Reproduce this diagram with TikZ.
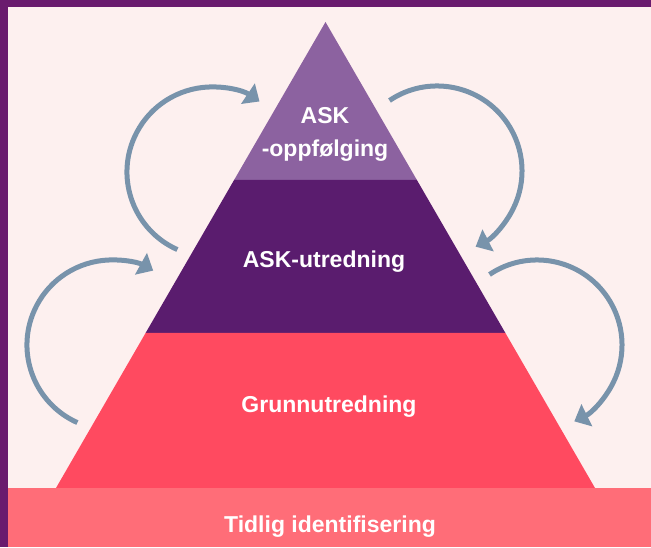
\documentclass[tikz,border=0pt]{standalone}
\usepackage{fontspec}
\setmainfont{Liberation Sans}
\usetikzlibrary{arrows.meta}
\definecolor{framec}{HTML}{6A1B6E}
\definecolor{bgc}{HTML}{FDF0EF}
\definecolor{lightp}{HTML}{8C62A0}
\definecolor{darkp}{HTML}{5A1C6E}
\definecolor{redc}{HTML}{FF4A60}
\definecolor{bandc}{HTML}{FF6D78}
\definecolor{loopc}{HTML}{7893AB}
\begin{document}
\begin{tikzpicture}[x=1pt,y=1pt]
\tikzstyle{lbl} = [text=white, font=\fontsize{23}{28}\selectfont\bfseries, inner sep=0pt, anchor=base]
\tikzstyle{loop} = [draw=loopc, line width=5pt, -{Triangle[width=24pt,length=14pt]}]
\useasboundingbox (0,0) rectangle (651,547);
\fill[bgc] (0,0) rectangle (651,547);
\fill[framec] (0,540) rectangle (651,547);
\fill[framec] (0,0) rectangle (8,547);
% pyramid
\coordinate (apex) at (325.5,525);
\coordinate (l1) at (234.1,367);
\coordinate (r1) at (416.9,367);
\coordinate (l2) at (145.6,214);
\coordinate (r2) at (505.4,214);
\coordinate (l3) at (56,59);
\coordinate (r3) at (595,59);
\fill[lightp] (apex) -- (r1) -- (l1) -- cycle;
\fill[darkp] (l1) -- (r1) -- (r2) -- (l2) -- cycle;
\fill[redc] (l2) -- (r2) -- (r3) -- (l3) -- cycle;
\fill[bandc] (8,0) rectangle (651,59);
% labels
\node[lbl] (ask) at (325,423) {ASK};
\node[lbl] (oppf) at (325,390) {-oppfølging};
\node[lbl] (utr) at (324,279) {ASK-utredning};
\node[lbl] (grunn) at (329,135) {Grunnutredning};
\node[lbl] (tidlig) at (330,15) {Tidlig identifisering};
% loops
\coordinate (s1) at (177.4,297.4);
\coordinate (s2) at (389.5,446.5);
\coordinate (s3) at (77.4,124.4);
\coordinate (s4) at (489.5,272.5);
\draw[loop] (s1) arc[start angle=246, end angle=56, radius=85pt];
\draw[loop] (s2) arc[start angle=124, end angle=-63, radius=85pt];
\draw[loop] (s3) arc[start angle=246, end angle=61, radius=85pt];
\draw[loop] (s4) arc[start angle=124, end angle=-64, radius=85pt];
\end{tikzpicture}
\end{document}
